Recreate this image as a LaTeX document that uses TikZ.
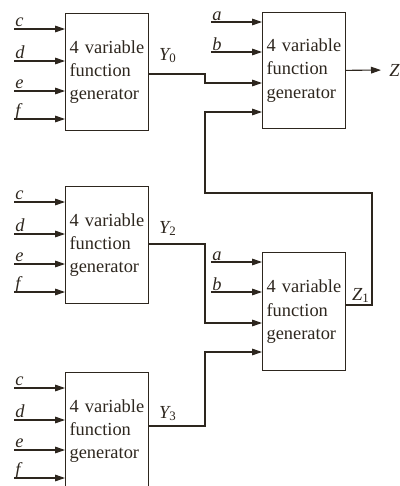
\documentclass[tikz,border=0pt]{standalone}
\usepackage{fontspec}
\setmainfont{Liberation Serif}
\usetikzlibrary{positioning,calc,arrows.meta}
\definecolor{ink}{RGB}{45,38,30}
\tikzset{
  gen/.style={draw=ink, line width=0.9pt, anchor=north west, align=left,
    text width=56pt, inner xsep=3pt, minimum height=#1, text=ink,
    font=\fontsize{13.8}{17.6}\selectfont},
  sig/.style={draw=ink, line width=0.8pt},
  arr/.style={sig, -{Triangle[length=7.5pt,width=5pt]}},
  lbl/.style={text=ink, font=\fontsize{13.8}{16}\selectfont\itshape,
    inner sep=0pt, anchor=base west},
}
\newcommand{\gentext}{4 variable\\function\\generator}

\begin{document}
\begin{tikzpicture}[x=0.75pt,y=-0.75pt]
  \useasboundingbox (0,0) rectangle (400,486);
  \node[gen=87.75pt] (y0gen) at (65,13) {\gentext};
  \node[gen=87.75pt] (y2gen) at (65,186) {\gentext};
  \node[gen=87.75pt] (y3gen) at (65,372) {\gentext};
  \node[gen=87pt] (z0gen) at (262,12) {\gentext};
  \node[gen=88.5pt] (z1gen) at (262,252) {\gentext};
  \foreach \g in {y0gen,y2gen,y3gen}{
    \foreach \s/\off in {c/16,d/48,e/78,f/106}{
      \coordinate (\g-\s) at ($(\g.north west)+(-51,\off)$);
      \draw[arr] (\g-\s) -- (\g.west |- \g-\s);
      \node[lbl] (\g-\s-lbl) at ($(\g-\s)+(1,-3)$) {\s};
    }
  }
  \foreach \g in {z0gen,z1gen}{
    \foreach \s/\off in {a/10,b/40}{
      \coordinate (\g-\s) at ($(\g.north west)+(-51,\off)$);
      \draw[arr] (\g-\s) -- (\g.west |- \g-\s);
      \node[lbl] (\g-\s-lbl) at ($(\g-\s)+(1,-2)$) {\s};
    }
    \coordinate (\g-i3) at ($(\g.north west)+(0,71)$);
    \coordinate (\g-i4) at ($(\g.north west)+(0,100)$);
  }
  \coordinate (y0gen-o) at ($(y0gen.north east)+(0,61)$);
  \coordinate (y2gen-o) at ($(y2gen.north east)+(0,58)$);
  \coordinate (y3gen-o) at ($(y3gen.north east)+(0,54)$);
  \coordinate (z1gen-o) at ($(z1gen.north east)+(0,53)$);
  \coordinate (bus) at (205,0);
  \coordinate (fb) at (372,193);
  \node[lbl] (y0lbl) at ($(y0gen.north east)+(10,47)$) {Y\textsubscript{\upshape 0}};
  \node[lbl] (y2lbl) at ($(y2gen.north east)+(10,47)$) {Y\textsubscript{\upshape 2}};
  \node[lbl] (y3lbl) at ($(y3gen.north east)+(10,46)$) {Y\textsubscript{\upshape 3}};
  \node[lbl] (z1lbl) at ($(z1gen.north east)+(6,48)$) {Z\textsubscript{\upshape 1}};
  \node[lbl, anchor=west, inner xsep=6pt] (zout) at (381,70) {Z};
  \draw[arr] (y0gen-o) -| (bus |- z0gen-i3) -- (z0gen-i3);
  \draw[arr] (z1gen-o) -| (fb) -| (bus |- z0gen-i4) -- (z0gen-i4);
  \draw[arr] (y2gen-o) -| (bus |- z1gen-i3) -- (z1gen-i3);
  \draw[arr] (y3gen-o) -| (bus |- z1gen-i4) -- (z1gen-i4);
  \draw[arr] (z0gen) -- (zout);
\end{tikzpicture}
\end{document}
